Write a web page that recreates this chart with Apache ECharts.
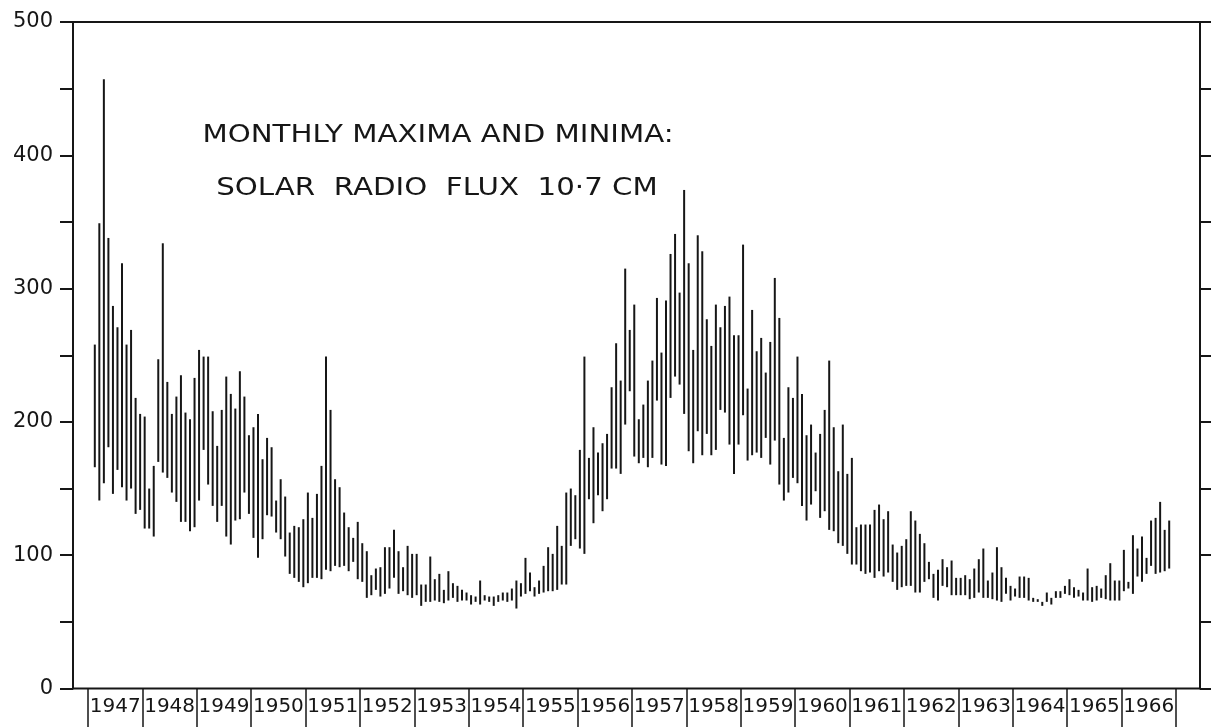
<!DOCTYPE html>
<html>
<head>
<meta charset="utf-8">
<title>Monthly maxima and minima: solar radio flux 10.7 cm</title>
<script src="https://cdn.jsdelivr.net/npm/echarts@6/dist/echarts.min.js"></script>
<style>
  html, body { margin: 0; padding: 0; background: #fff; }
  #chart { width: 1211px; height: 727px; }
</style>
</head>
<body>
<div id="chart"></div>
<script>
// years shown in the boxes under the axis
var years = ['1947', '1948', '1949', '1950', '1951', '1952', '1953', '1954', '1955', '1956',
             '1957', '1958', '1959', '1960', '1961', '1962', '1963', '1964', '1965', '1966'];

// monthly maxima (Jan..Dec per row), null = no observation
var fluxMax = [
    null, 258, 349, 457, 338, 287, 271, 319, 258, 269, 218, 206,   // 1947
    204, 150, 167, 247, 334, 230, 206, 219, 235, 207, 202, 233,    // 1948
    254, 249, 249, 208, 182, 209, 234, 221, 210, 238, 219, 190,    // 1949
    196, 206, 172, 188, 181, 141, 157, 144, 117, 122, 121, 127,    // 1950
    147, 128, 146, 167, 249, 209, 157, 151, 132, 121, 113, 125,    // 1951
    109, 103, 85, 90, 91, 106, 106, 119, 103, 91, 107, 101,        // 1952
    101, 78, 78, 99, 82, 86, 74, 88, 79, 77, 74, 72,               // 1953
    70, 69, 81, 70, 69, 69, 70, 72, 72, 75, 81, 79,                // 1954
    98, 87, 76, 81, 92, 106, 101, 122, 107, 147, 150, 145,         // 1955
    179, 249, 173, 196, 177, 184, 191, 226, 259, 231, 315, 269,    // 1956
    288, 202, 213, 231, 246, 293, 252, 291, 326, 341, 297, 374,    // 1957
    319, 254, 340, 328, 277, 257, 288, 271, 287, 294, 265, 265,    // 1958
    333, 225, 284, 253, 263, 237, 260, 308, 278, 188, 226, 218,    // 1959
    249, 221, 190, 198, 177, 191, 209, 246, 196, 163, 198, 161,    // 1960
    173, 121, 123, 123, 123, 134, 138, 127, 133, 108, 102, 107,    // 1961
    112, 133, 126, 116, 109, 95, 86, 89, 97, 91, 96, 83,           // 1962
    83, 85, 82, 90, 97, 105, 81, 87, 106, 91, 83, 77,              // 1963
    75, 84, 84, 83, 68, 67, 65, 72, 68, 73, 73, 77,                // 1964
    82, 76, 74, 72, 90, 76, 77, 75, 85, 94, 81, 81,                // 1965
    104, 80, 115, 105, 114, 98, 126, 128, 140, 119, 126, null      // 1966
];

// monthly minima
var fluxMin = [
    null, 166, 141, 154, 181, 146, 164, 151, 141, 150, 131, 134,   // 1947
    120, 120, 114, 170, 162, 158, 147, 140, 125, 125, 118, 121,    // 1948
    141, 179, 153, 137, 125, 137, 114, 108, 126, 127, 147, 131,    // 1949
    113, 98, 112, 130, 129, 117, 112, 99, 86, 83, 80, 76,          // 1950
    79, 83, 83, 82, 89, 88, 92, 91, 92, 88, 95, 82,                // 1951
    80, 68, 70, 74, 69, 71, 75, 83, 71, 73, 70, 68,                // 1952
    70, 62, 65, 65, 66, 65, 64, 66, 68, 65, 66, 66,                // 1953
    63, 65, 63, 66, 65, 62, 65, 66, 65, 66, 60, 69,                // 1954
    71, 73, 69, 71, 72, 73, 73, 74, 78, 78, 107, 112,              // 1955
    105, 101, 142, 124, 145, 133, 142, 165, 165, 161, 198, 223,    // 1956
    174, 169, 173, 166, 173, 216, 168, 167, 218, 234, 228, 206,    // 1957
    178, 169, 193, 175, 191, 175, 179, 209, 207, 183, 161, 183,    // 1958
    205, 171, 175, 177, 173, 188, 168, 186, 153, 141, 147, 158,    // 1959
    154, 137, 126, 138, 148, 128, 133, 119, 118, 109, 107, 101,    // 1960
    93, 93, 88, 86, 87, 83, 88, 84, 87, 80, 74, 76,                // 1961
    77, 77, 72, 72, 80, 82, 68, 66, 77, 76, 70, 70,                // 1962
    70, 70, 67, 68, 72, 68, 68, 67, 66, 65, 71, 66,                // 1963
    69, 68, 68, 66, 65, 65, 62, 65, 63, 68, 68, 71,                // 1964
    70, 68, 69, 66, 66, 65, 66, 68, 67, 66, 66, 66,                // 1965
    73, 75, 71, 84, 80, 86, 92, 86, 87, 88, 90, null               // 1966
];

var months = [];
years.forEach(function (y) {
    for (var m = 1; m <= 12; m++) months.push(y + '-' + (m < 10 ? '0' + m : m));
});

var bars = [];
fluxMax.forEach(function (hi, i) {
    if (hi != null && fluxMin[i] != null) bars.push([i, fluxMin[i], hi]);
});

var ink = '#161616';
var font = 'DejaVu Sans';

var myChart = echarts.init(document.getElementById('chart'));

var option = {
    animation: false,
    backgroundColor: '#fff',
    grid: [
        // frame with the two scales
        { left: 73, right: 11, top: 22, bottom: 38.5, show: true, borderColor: ink, borderWidth: 2 },
        // plotting area that the year boxes span
        { left: 88, right: 35, top: 22, bottom: 38.5 }
    ],
    xAxis: [
        { gridIndex: 0, type: 'value', min: 0, max: 1, show: false },
        { gridIndex: 1, type: 'category', data: months, show: false },
        {
            gridIndex: 1, type: 'category', data: years, position: 'bottom',
            axisLine: { show: false },
            axisTick: { show: true, length: 40, lineStyle: { color: ink, width: 1.5 } },
            axisLabel: { color: ink, fontFamily: font, fontSize: 20, margin: 8, interval: 0 }
        }
    ],
    yAxis: [
        {
            gridIndex: 0, type: 'value', position: 'left', min: 0, max: 500, interval: 50,
            axisLine: { show: true, lineStyle: { color: ink, width: 2 } },
            axisTick: { show: true, length: 13, lineStyle: { color: ink, width: 2 } },
            axisLabel: {
                color: ink, fontFamily: font, fontSize: 21, margin: 20,
                formatter: function (v) { return v % 100 === 0 ? String(v) : ''; }
            },
            splitLine: { show: false }
        },
        {
            gridIndex: 0, type: 'value', position: 'right', min: 0, max: 500, interval: 50,
            axisLine: { show: true, lineStyle: { color: ink, width: 2 } },
            axisTick: { show: true, length: 11, lineStyle: { color: ink, width: 2 } },
            axisLabel: { show: false },
            splitLine: { show: false }
        },
        { gridIndex: 1, type: 'value', min: 0, max: 500, show: false }
    ],
    graphic: [
        {
            type: 'text', x: 438, y: 136, scaleX: 1.22, silent: true,
            style: {
                text: 'MONTHLY MAXIMA AND MINIMA:', fill: ink,
                font: '24px "DejaVu Sans"', textAlign: 'center', textVerticalAlign: 'middle'
            }
        },
        {
            type: 'text', x: 437, y: 189, scaleX: 1.22, silent: true,
            style: {
                text: 'SOLAR  RADIO  FLUX  10·7 CM', fill: ink,
                font: '24px "DejaVu Sans"', textAlign: 'center', textVerticalAlign: 'middle'
            }
        }
    ],
    series: [
        {
            name: 'Monthly range',
            type: 'custom',
            xAxisIndex: 1,
            yAxisIndex: 2,
            data: bars,
            encode: { x: 0, y: [1, 2] },
            renderItem: function (params, api) {
                var lo = api.coord([api.value(0), api.value(1)]);
                var hi = api.coord([api.value(0), api.value(2)]);
                return {
                    type: 'line',
                    shape: { x1: lo[0], y1: lo[1], x2: hi[0], y2: hi[1] },
                    style: { stroke: ink, lineWidth: 2 }
                };
            }
        }
    ]
};

myChart.setOption(option);
</script>
</body>
</html>
